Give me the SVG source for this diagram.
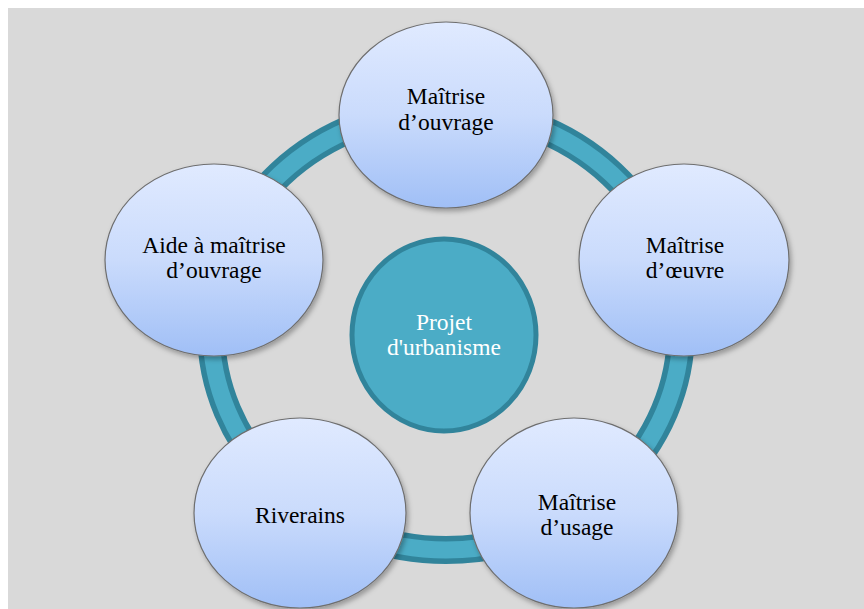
<svg xmlns="http://www.w3.org/2000/svg" width="864" height="609" viewBox="0 0 864 609">
  <defs>
    <linearGradient id="nodeGrad" x1="0" y1="0" x2="0" y2="1">
      <stop offset="0" stop-color="#e0eaff"/>
      <stop offset="0.5" stop-color="#cadbfc"/>
      <stop offset="1" stop-color="#a0bff6"/>
    </linearGradient>
    <filter id="shadow" x="-10%" y="-10%" width="125%" height="125%">
      <feDropShadow dx="2" dy="3" stdDeviation="2.5" flood-color="#000" flood-opacity="0.3"/>
    </filter>
    <style>
      .node { fill: url(#nodeGrad); stroke: #6e6e6e; stroke-width: 1.2; filter: url(#shadow); }
      .label { font-family: "Liberation Serif", "Times New Roman", serif; font-size: 23.5px; fill: #000; text-anchor: middle; }
      .center { fill: #4bacc6; stroke: #31849b; stroke-width: 5; }
      .clabel { font-family: "Liberation Serif", "Times New Roman", serif; font-size: 23.5px; fill: #fff; text-anchor: middle; }
    </style>
  </defs>
  <rect x="0" y="0" width="864" height="609" fill="#ffffff"/>
  <rect x="8" y="8" width="856" height="601" fill="#d9d9d9"/>

  <g id="connectors">
    <ellipse cx="446" cy="330" rx="235" ry="220" fill="none" stroke="#31849b" stroke-width="28"/>
    <ellipse cx="446" cy="330" rx="235" ry="220" fill="none" stroke="#4bacc6" stroke-width="17"/>
  </g>

  <g id="center-node">
    <ellipse class="center" cx="444" cy="335" rx="92" ry="96"/>
    <text class="clabel" x="444" y="330">Projet</text>
    <text class="clabel" x="444" y="355">d'urbanisme</text>
  </g>

  <g id="node-maitrise-ouvrage">
    <ellipse class="node" cx="446" cy="115" rx="107" ry="93"/>
    <text class="label" x="446" y="104">Maîtrise</text>
    <text class="label" x="446" y="130">d’ouvrage</text>
  </g>

  <g id="node-maitrise-oeuvre">
    <ellipse class="node" cx="684" cy="260" rx="105" ry="96"/>
    <text class="label" x="685" y="253">Maîtrise</text>
    <text class="label" x="685" y="278">d’œuvre</text>
  </g>

  <g id="node-maitrise-usage">
    <ellipse class="node" cx="574" cy="513" rx="104" ry="95"/>
    <text class="label" x="577" y="510">Maîtrise</text>
    <text class="label" x="577" y="535">d’usage</text>
  </g>

  <g id="node-riverains">
    <ellipse class="node" cx="300" cy="513" rx="106" ry="95"/>
    <text class="label" x="300" y="523">Riverains</text>
  </g>

  <g id="node-amo">
    <ellipse class="node" cx="214" cy="260" rx="109" ry="96"/>
    <text class="label" x="214" y="253">Aide à maîtrise</text>
    <text class="label" x="214" y="278">d’ouvrage</text>
  </g>
</svg>
